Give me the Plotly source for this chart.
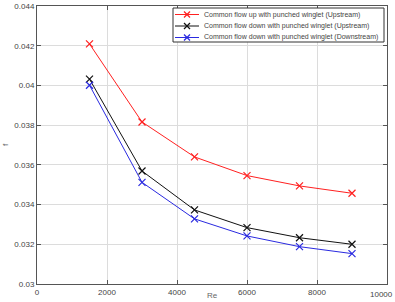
import plotly.graph_objects as go

re_vals = [1500, 3000, 4500, 6000, 7500, 9000]
red_up = [0.04209, 0.03816, 0.0364, 0.03546, 0.03494, 0.03457]
black_up = [0.04032, 0.03569, 0.03373, 0.03284, 0.03233, 0.0320]
blue_down = [0.04001, 0.03512, 0.03328, 0.03242, 0.03188, 0.03153]
x_ticks = [0, 2000, 4000, 6000, 8000, 10000]
y_ticks = [0.03, 0.032, 0.034, 0.036, 0.038, 0.04, 0.042, 0.044]
y_ticktext = ["0.03", "0.032", "0.034", "0.036", "0.038", "0.04", "0.042", "0.044"]
names = [
    "Common flow up with punched winglet (Upstream)",
    "Common flow down with punched winglet (Upstream)",
    "Common flow down with punched winglet (Downstream)",
]
colors = ["#ff2020", "#111111", "#2a2ae0"]

W, H = 395, 302
L, R, T, B = 37, 8, 6, 18
PW, PH = W - L - R, H - T - B


def px(xp):
    return (xp - L) / PW


def py(yp):
    return (H - B - yp) / PH


fig = go.Figure()
for ys, nm, c in zip([red_up, black_up, blue_down], names, colors):
    fig.add_trace(go.Scatter(
        x=re_vals, y=ys, name=nm, mode="lines+markers",
        line=dict(color=c, width=1),
        marker=dict(symbol="x-thin", size=7, line=dict(color=c, width=1.2)),
        showlegend=False,
    ))

tick_font = dict(family="Liberation Sans, Arial", size=8, color="#444444")
axis_common = dict(
    showgrid=True, gridcolor="#dcdcdc", gridwidth=1,
    showline=True, linecolor="#555555", linewidth=1, mirror="ticks",
    ticks="inside", ticklen=4, tickcolor="#555555",
    tickfont=tick_font,
    zeroline=False, automargin=False,
)
fig.update_xaxes(range=[0, 10000], tickvals=x_ticks,
                 ticktext=[str(v) if v < 10000 else "" for v in x_ticks], **axis_common)
fig.update_yaxes(range=[0.03, 0.044], tickvals=y_ticks, ticktext=y_ticktext,
                 **axis_common)

shapes = []
annotations = []
# legend box
shapes.append(dict(type="rect", xref="paper", yref="paper",
                   x0=px(173), x1=px(384), y0=py(42), y1=py(8),
                   line=dict(color="#333333", width=1), fillcolor="white", layer="above"))
rows = [14.5, 26, 37.5]
for yr, nm, c in zip(rows, names, colors):
    shapes.append(dict(type="line", xref="paper", yref="paper",
                       x0=px(175), x1=px(199), y0=py(yr), y1=py(yr),
                       line=dict(color=c, width=1), layer="above"))
    mx = 187
    shapes.append(dict(type="line", xref="paper", yref="paper",
                       x0=px(mx - 3), x1=px(mx + 3), y0=py(yr - 3), y1=py(yr + 3),
                       line=dict(color=c, width=1.2), layer="above"))
    shapes.append(dict(type="line", xref="paper", yref="paper",
                       x0=px(mx - 3), x1=px(mx + 3), y0=py(yr + 3), y1=py(yr - 3),
                       line=dict(color=c, width=1.2), layer="above"))
    annotations.append(dict(text=nm, xref="paper", yref="paper", x=px(202), y=py(yr),
                            xanchor="left", yanchor="middle", showarrow=False,
                            font=dict(family="Liberation Sans, Arial", size=7, color="#444444")))

# last x tick label kept inside the page
annotations.append(dict(text=str(x_ticks[-1]), xref="paper", yref="paper", x=px(395), y=py(294),
                        xanchor="right", yanchor="middle", showarrow=False, font=tick_font))
annotations.append(dict(text="f", xref="paper", yref="paper", x=px(5), y=py(145),
                        xanchor="center", yanchor="middle", showarrow=False, textangle=-90,
                        font=dict(family="Liberation Sans, Arial", size=8, color="#666666")))
annotations.append(dict(text="Re", xref="paper", yref="paper", x=px(212), y=py(302),
                        xanchor="center", yanchor="bottom", showarrow=False,
                        font=dict(family="Liberation Sans, Arial", size=8, color="#666666")))

fig.update_layout(
    width=W, height=H,
    margin=dict(l=L, r=R, t=T, b=B),
    plot_bgcolor="white", paper_bgcolor="white",
    shapes=shapes, annotations=annotations,
    showlegend=False,
)
fig.write_html("out.html")
